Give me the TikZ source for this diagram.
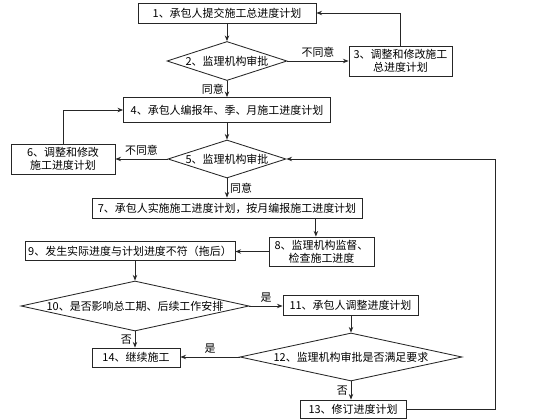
\documentclass[tikz,border=0pt]{standalone}
\usepackage{fontspec}
\setmainfont{Noto Sans CJK SC}
\usetikzlibrary{arrows.meta,shapes.geometric}

\begin{document}
\begin{tikzpicture}[x=0.025cm,y=-0.025cm,>={Stealth[length=1.4mm,width=1.1mm]},
  font=\fontsize{7.8}{9.3}\selectfont,line cap=round,
  box/.style={draw=black!85,line width=0.6pt,inner sep=0pt,align=center},
  dia/.style={draw=black!85,line width=0.6pt,diamond,inner sep=0pt},
  flow/.style={->,draw=black!85,line width=0.6pt},
  lbl/.style={inner sep=2pt}]
\useasboundingbox[fill=white] (0,0) rectangle (560,420);
% boxes and decisions
\node[box,minimum width=4.45cm,minimum height=0.5cm] (b1) at (227,13) {1、承包人提交施工总进度计划};
\node[dia,minimum width=3cm,minimum height=0.975cm,shape aspect=3.08] (d2) at (227,61) {2、监理机构审批};
\node[box,minimum width=2.575cm,minimum height=0.75cm] (b3) at (400.5,61) {3、调整和修改施工\\总进度计划};
\node[box,minimum width=5.175cm,minimum height=0.625cm] (b4) at (227,110) {4、承包人编报年、季、月施工进度计划};
\node[dia,minimum width=2.95cm,minimum height=0.95cm,shape aspect=3.1] (d5) at (227,159) {5、监理机构审批};
\node[box,minimum width=2.6cm,minimum height=0.75cm] (b6) at (63,159) {6、调整和修改\\施工进度计划};
\node[box,minimum width=6.75cm,minimum height=0.5cm] (b7) at (227,208) {7、承包人实施施工进度计划，按月编报施工进度计划};
\node[box,minimum width=2.625cm,minimum height=0.725cm] (b8) at (321.5,251.5) {8、监理机构监督、\\检查施工进度};
\node[box,minimum width=5.25cm,minimum height=0.475cm] (b9) at (130,251) {9、发生实际进度与计划进度不符（拖后）};
\node[dia,minimum width=5.7cm,minimum height=1.25cm,shape aspect=4.56] (d10) at (135,306) {10、是否影响总工期、后续工作安排};
\node[box,minimum width=3.375cm,minimum height=0.5cm] (b11) at (350.5,305) {11、承包人调整进度计划};
\node[dia,minimum width=5.55cm,minimum height=1.2cm,shape aspect=4.6] (d12) at (351,357) {12、监理机构审批是否满足要求};
\node[box,minimum width=2.2cm,minimum height=0.475cm] (b14) at (136,357.5) {14、继续施工};
\node[box,minimum width=2.65cm,minimum height=0.45cm] (b13) at (353,409) {13、修订进度计划};
\coordinate (rc) at (495,0);
% connectors
\draw[flow] (b1) -- (d2);
\draw[flow] (d2.east) -- (b3.west) node[lbl,midway,above]{不同意};
\draw[flow] (b3.north) |- (b1.east);
\draw[flow] (d2.south) -- (b4.north) node[lbl,midway,left]{同意};
\draw[flow] (b4) -- (d5);
\draw[flow] (d5.west) -- (b6.east) node[lbl,midway,above]{不同意};
\draw[flow] (b6.north) |- (b4.west);
\draw[flow] (d5.south) -- (b7.north) node[lbl,midway,right]{同意};
\draw[flow] ([xshift=-0.14cm]b8.north |- b7.south) -- ([xshift=-0.14cm]b8.north);
\draw[flow] (b8.west) -- (b8.west -| b9.east);
\draw[flow] (d10.north |- b9.south) -- (d10.north);
\draw[flow] (d10.east) -- (d10.east -| b11.west) node[lbl,midway,above]{是};
\draw[flow] (b11.south -| d12.north) -- (d12.north);
\draw[flow] (d10.south) -- (d10.south |- b14.north) node[lbl,midway,left]{否};
\draw[flow] (d12.west) -- (d12.west -| b14.east) node[lbl,midway,above]{是};
\draw[flow] (d12.south) -- (d12.south |- b13.north) node[lbl,midway,left]{否};
\draw[flow] (b13.east) -| (rc |- d5.east) -- (d5.east);
\end{tikzpicture}
\end{document}
